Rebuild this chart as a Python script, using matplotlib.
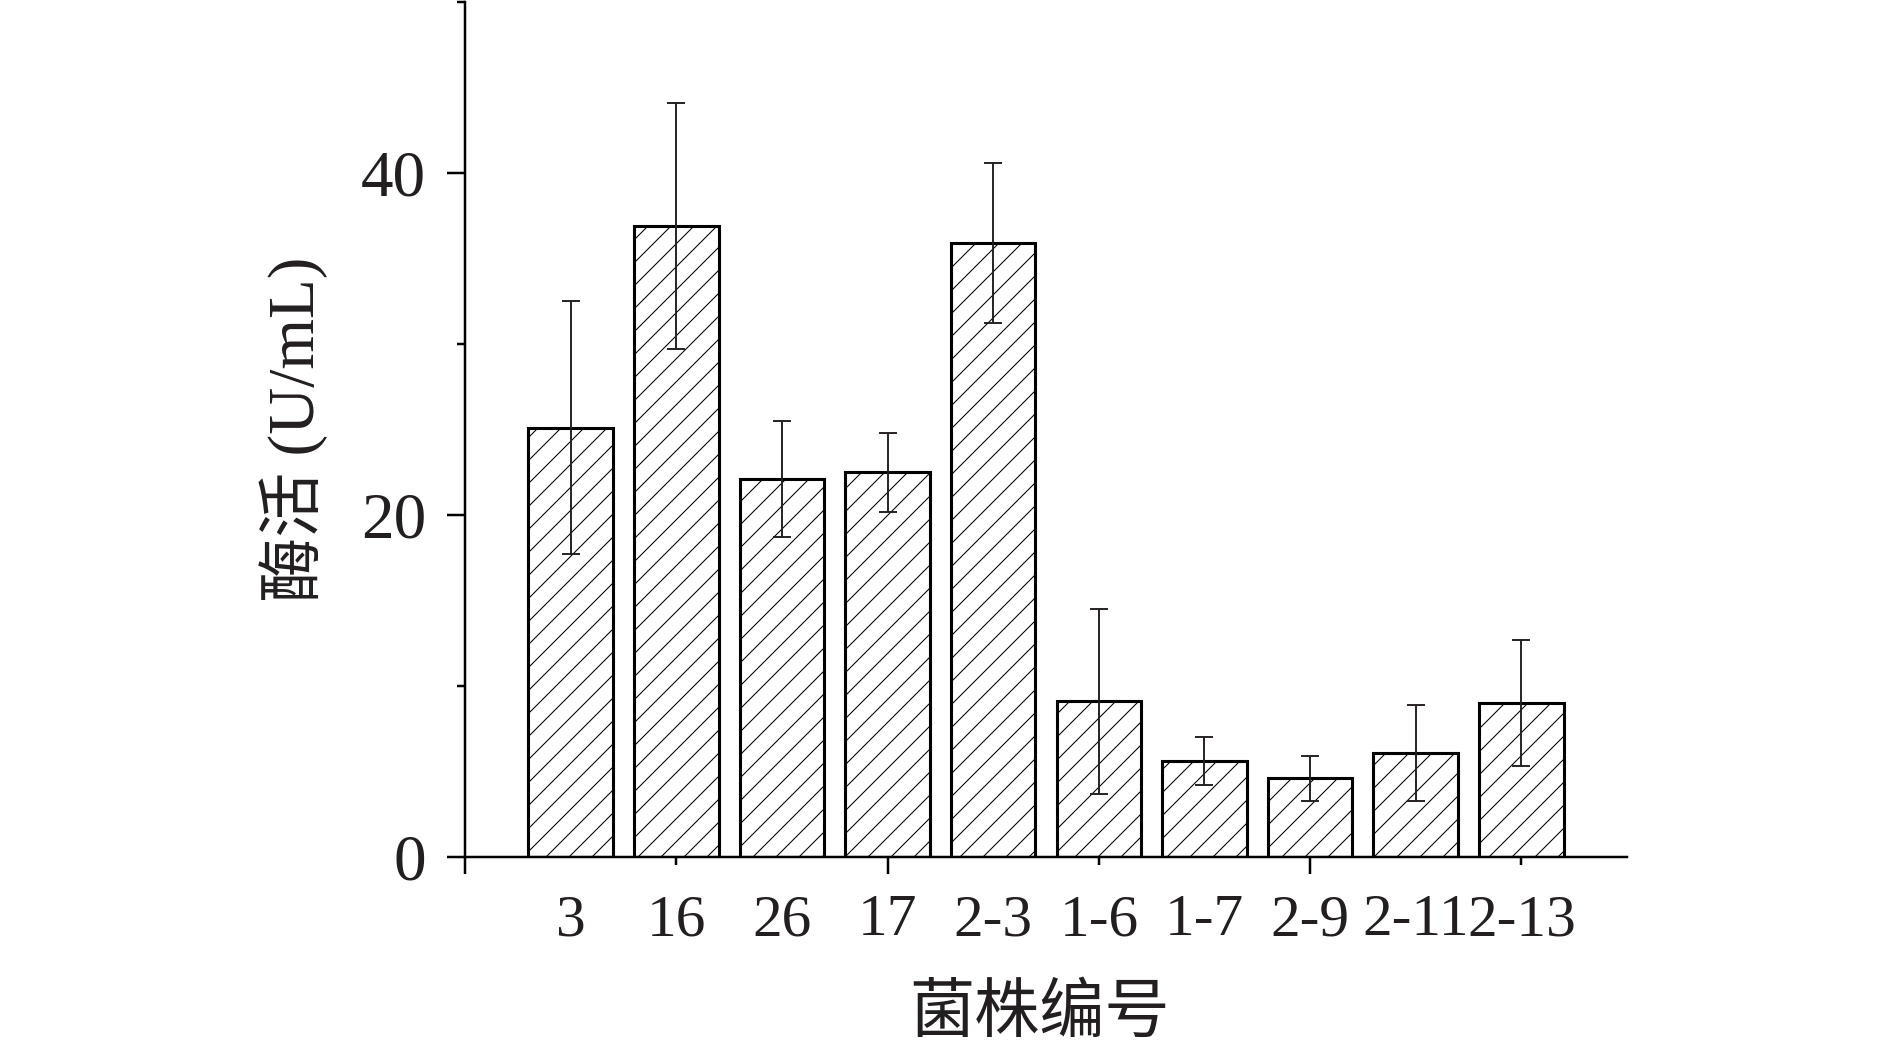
import numpy as np
import matplotlib
matplotlib.use("Agg")
import matplotlib.pyplot as plt

# strain IDs and enzyme activity (U/mL), mean and error
strains = ["3", "16", "26", "17", "2-3", "1-6", "1-7", "2-9", "2-11", "2-13"]
activity = [25.1, 36.9, 22.1, 22.5, 35.9, 9.1, 5.6, 4.6, 6.1, 9.0]
errors = [7.4, 7.2, 3.4, 2.3, 4.7, 5.4, 1.4, 1.3, 2.8, 3.7]

ink = "#231f20"
plt.rcParams["hatch.color"] = "#555555"
plt.rcParams["hatch.linewidth"] = 0.55
plt.rcParams["font.family"] = ["Liberation Serif", "Noto Sans CJK SC"]

DPI = 138
fig = plt.figure(figsize=(1890 / DPI, 1052 / DPI), dpi=DPI)
ax = fig.add_axes([465 / 1890, 1 - 857 / 1052, 1162 / 1890, 855 / 1052])

x = np.arange(1, len(strains) + 1)
ax.bar(x, activity, width=0.8, color="white", edgecolor="black",
       linewidth=1.6, hatch="//", zorder=2)
ax.errorbar(x, activity, yerr=errors, fmt="none", ecolor=ink,
            elinewidth=1.0, capsize=4.5, capthick=1.0, zorder=3)

ax.set_xlim(0, 11)
ax.set_ylim(0, 50)

for side in ["top", "right"]:
    ax.spines[side].set_visible(False)
for side in ["left", "bottom"]:
    ax.spines[side].set_linewidth(1.3)
    ax.spines[side].set_color("black")

# y axis: majors at 0/20/40, minors at 10/30/50
ax.set_yticks([0, 20, 40])
ax.set_yticks([10, 30, 50], minor=True)
ax.tick_params(axis="y", which="major", direction="out", length=9.4,
               width=1.3, labelsize=34, labelcolor=ink, pad=11)
ax.tick_params(axis="y", which="minor", direction="out", length=4.2, width=1.3)

# x axis: labels under each bar, no marks
ax.set_xticks(x, strains)
ax.tick_params(axis="x", which="major", length=0, labelsize=31,
               labelcolor=ink, pad=19.5)

# x tick marks (Origin style: long every 4, short in between)
sec = ax.secondary_xaxis("bottom")
sec.spines["bottom"].set_visible(False)
sec.set_xticks([0, 4, 8])
sec.set_xticks([2, 6, 10], minor=True)
sec.set_xticklabels([])
sec.tick_params(axis="x", which="major", direction="out", length=9.0, width=1.3)
sec.tick_params(axis="x", which="minor", direction="out", length=4.2, width=1.3)

ax.set_ylabel("酶活 (U/mL)", fontsize=34, color=ink)
ax.yaxis.set_label_coords(-0.118, 0.5)
ax.set_xlabel("菌株编号", fontsize=34, color=ink)
ax.xaxis.set_label_coords(0.494, -0.150)

fig.savefig("out.png", dpi=DPI)
